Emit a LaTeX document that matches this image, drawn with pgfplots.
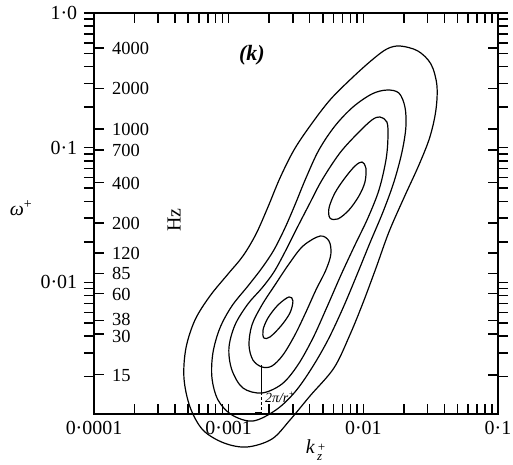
\documentclass[border=0pt]{standalone}
\usepackage{fontspec}
\setmainfont{Liberation Serif}
\usepackage{pgfplots}
\usepackage{pgfplotstable}
\pgfplotsset{compat=1.18}

% Iso-contours of the spectrum, in decades: lk = log10(k_z^+), lw = log10(omega^+)
\pgfplotstableread{
lk lw
-1.728 -0.245
-1.595 -0.282
-1.498 -0.379
-1.454 -0.535
-1.461 -0.720
-1.506 -0.921
-1.587 -1.128
-1.699 -1.373
-1.810 -1.626
-1.906 -1.893
-2.003 -2.153
-2.100 -2.390
-2.218 -2.635
-2.396 -2.843
-2.545 -3.022
-2.679 -3.163
-2.864 -3.222
-3.035 -3.192
-3.191 -3.096
-3.287 -2.925
-3.332 -2.710
-3.317 -2.487
-3.250 -2.279
-3.139 -2.101
-3.005 -1.938
-2.894 -1.804
-2.797 -1.641
-2.708 -1.440
-2.619 -1.225
-2.515 -1.017
-2.396 -0.839
-2.248 -0.646
-2.085 -0.483
-1.936 -0.349
-1.825 -0.267
}\levelA

\pgfplotstableread{
lk lw
-1.825 -0.572
-1.736 -0.594
-1.691 -0.698
-1.684 -0.846
-1.713 -1.032
-1.773 -1.255
-1.854 -1.477
-1.951 -1.707
-2.048 -1.945
-2.151 -2.190
-2.263 -2.428
-2.382 -2.635
-2.508 -2.814
-2.649 -2.947
-2.820 -3.029
-2.976 -2.984
-3.079 -2.873
-3.124 -2.710
-3.117 -2.524
-3.065 -2.339
-2.976 -2.175
-2.857 -2.027
-2.753 -1.893
-2.664 -1.759
-2.582 -1.596
-2.508 -1.425
-2.426 -1.225
-2.330 -1.017
-2.211 -0.839
-2.077 -0.698
-1.936 -0.601
}\levelB

\pgfplotstableread{
lk lw
-1.877 -0.772
-1.825 -0.809
-1.817 -0.921
-1.832 -1.091
-1.884 -1.314
-1.966 -1.522
-2.062 -1.722
-2.166 -1.945
-2.270 -2.183
-2.374 -2.413
-2.486 -2.613
-2.604 -2.754
-2.753 -2.821
-2.894 -2.784
-2.976 -2.650
-2.998 -2.487
-2.953 -2.316
-2.857 -2.160
-2.753 -2.042
-2.664 -1.923
-2.582 -1.774
-2.500 -1.611
-2.404 -1.425
-2.307 -1.240
-2.174 -1.039
-2.040 -0.891
-1.936 -0.794
}\levelC

\pgfplotstableread{
lk lw
-2.322 -1.656
-2.255 -1.693
-2.241 -1.789
-2.278 -1.908
-2.352 -2.056
-2.426 -2.220
-2.508 -2.390
-2.597 -2.539
-2.679 -2.621
-2.753 -2.628
-2.820 -2.576
-2.849 -2.465
-2.827 -2.316
-2.753 -2.168
-2.656 -2.019
-2.552 -1.863
-2.448 -1.730
}\levelD

\pgfplotstableread{
lk lw
-2.010 -1.106
-1.981 -1.151
-1.988 -1.255
-2.033 -1.359
-2.107 -1.463
-2.189 -1.529
-2.248 -1.522
-2.255 -1.448
-2.211 -1.336
-2.137 -1.225
-2.062 -1.136
}\peakHigh

\pgfplotstableread{
lk lw
-2.552 -2.108
-2.523 -2.138
-2.545 -2.227
-2.612 -2.324
-2.693 -2.405
-2.738 -2.413
-2.745 -2.353
-2.708 -2.264
-2.634 -2.168
}\peakLow

\pgfplotsset{
  frame/.style={
    scale only axis,
    width=404bp, height=401bp,
    xmin=-4, xmax=-1,
    ymin=-2.977, ymax=0,
    clip=false,
    axis line style={line width=2bp},
    major tick length=10bp,
    minor tick length=10bp,
    every major tick/.append style={line width=1.5bp, black},
    every minor tick/.append style={line width=1.5bp, black},
  },
}

\begin{document}
\fontsize{20}{24}\selectfont
\begin{tikzpicture}[tk/.style={black, line width=1.5bp}]
% omega^+ scale: ticks pointing out of the frame, on the left
\begin{axis}[
  frame,
  axis x line=none,
  axis y line*=left,
  tick align=outside,
  ytick={-2,-1,0},
  yticklabels={0·01,0·1,1·0},
  minor ytick={-2.699,-2.523,-2.398,-2.301,-2.222,-2.155,-2.097,-2.046,
               -1.699,-1.523,-1.398,-1.301,-1.222,-1.155,-1.097,-1.046,
               -0.699,-0.523,-0.398,-0.301,-0.222,-0.155,-0.097,-0.046},
]
\end{axis}

% k_z^+ scale, frequency scale in Hz, and the contours
\begin{axis}[
  frame,
  tick align=inside,
  xtick pos=left, ytick pos=left,
  xtick={-4,-3,-2,-1},
  xticklabels={0·0001,0·001,0·01,0·1},
  ytick={-0.2596,-0.5607,-0.8617,-1.0166,-1.2596,-1.5607,
         -1.7825,-1.9323,-2.0835,-2.2819,-2.3846,-2.6856},
  yticklabels={4000,2000,1000,700,400,200,120,85,60,
               \raisebox{1bp}{38},\raisebox{-2bp}{30},15},
  yticklabel style={anchor=base west, inner sep=0pt, xshift=18bp, yshift=-6.4bp,
                    font=\fontsize{18.5}{19}\selectfont},
  contour/.style={black, line width=1.2bp, no markers, smooth cycle, tension=0.55},
]
\addplot[contour] table[x=lk, y=lw] {\levelA};
\addplot[contour] table[x=lk, y=lw] {\levelB};
\addplot[contour] table[x=lk, y=lw] {\levelC};
\addplot[contour] table[x=lk, y=lw] {\levelD};
\addplot[contour] table[x=lk, y=lw] {\peakHigh};
\addplot[contour] table[x=lk, y=lw] {\peakLow};

% resolution limit k = 2 pi / r+
\addplot[black, line width=1.1bp] coordinates {(-2.753,-2.613) (-2.753,-2.814)};
\addplot[black, line width=0.9bp, densely dashed] coordinates {(-2.753,-2.814) (-2.753,-2.962)};
\addplot[black, line width=0.9bp] coordinates {(-2.805,-2.962) (-2.753,-2.962)};

\node[anchor=west, inner sep=0pt, font=\fontsize{14}{15}\selectfont\itshape]
  at (axis cs:-2.731,-2.851) {2π/r\textsuperscript{+}};
\node[font=\fontsize{22}{24}\selectfont\bfseries\itshape] at (axis cs:-2.827,-0.312) {(k)};
\node[rotate=90] at (axis cs:-3.406,-1.537) {Hz};
\node at (axis cs:-4.542,-1.448) {\textit{ω}\textsuperscript{+}};
\node[inner sep=0pt] at (axis cs:-2.352,-3.244)
  {\textit{k}\hspace{2bp}\raisebox{-7bp}{\fontsize{13}{15}\selectfont\itshape\shortstack[l]{+\\z}}};

\coordinate (SW) at (rel axis cs:0,0);
\coordinate (NW) at (rel axis cs:0,1);
\coordinate (NE) at (rel axis cs:1,1);
\end{axis}

% frame ticks: k_z^+ along bottom and top (inwards), 134.667 bp per decade
\foreach \k in {0,1,2}{
  \foreach \m in {0.301,0.477,0.602,0.699,0.778,0.845,0.903,0.954}{
    \draw[tk] ([xshift={(\k+\m)*134.667bp}]SW) -- ++(0,10bp);
    \draw[tk] ([xshift={(\k+\m)*134.667bp}]NW) -- ++(0,-10bp);
  }
}
\foreach \k in {1,2}{
  \draw[tk] ([xshift={\k*134.667bp}]SW) -- ++(0,10bp);
  \draw[tk] ([xshift={\k*134.667bp}]NW) -- ++(0,-10bp);
}
% omega^+ on the right (outwards), 134.7 bp per decade downwards from 1.0
\foreach \j in {0,1,2}{
  \foreach \m in {0.699,0.523,0.398,0.301,0.222,0.155,0.097,0.046}{
    \draw[tk] ([yshift={-(\j+\m)*134.7bp}]NE) -- ++(10bp,0);
  }
  \draw[tk] ([yshift={-\j*134.7bp}]NE) -- ++(10bp,0);
}
% Hz on the right (inwards)
\foreach \v in {0.2596,0.5607,0.8617,1.0166,1.2596,1.5607,
                1.7825,1.9323,2.0835,2.2819,2.3846,2.6856}{
  \draw[tk] ([yshift={-\v*134.7bp}]NE) -- ++(-10bp,0);
}

\pgfresetboundingbox
\path[use as bounding box] ([shift={(-94bp,-51bp)}]SW) rectangle ([shift={(15bp,13bp)}]NE);
\end{tikzpicture}
\end{document}
